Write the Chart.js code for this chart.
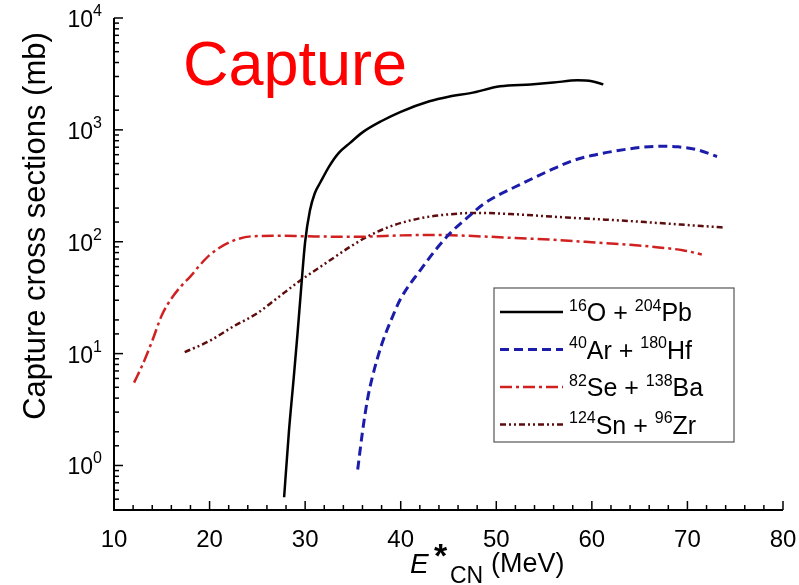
<!DOCTYPE html>
<html>
<head>
<meta charset="utf-8">
<script src="https://cdn.jsdelivr.net/npm/chart.js@4.4.1/dist/chart.umd.min.js"></script>
<style>
  html, body { margin: 0; padding: 0; background: #fff; }
  #wrap { width: 799px; height: 585px; }
</style>
</head>
<body>
<div id="wrap"><canvas id="chart" width="799" height="585"></canvas></div>
<script>
// E*CN (MeV) vs capture cross section (mb)
const opbX = [27.8, 28.3, 28.8, 29.2, 29.6, 30.0, 30.5, 31.0, 31.6, 32.5, 33.5, 34.7, 36.0, 38.0, 40.0, 43.0, 45.0, 47.3, 50.4, 53.6, 56.0, 58.5, 60.0, 61.2];
const opbY = [0.52, 2, 6, 15, 40, 100, 190, 270, 340, 470, 620, 765, 950, 1200, 1450, 1800, 1980, 2130, 2450, 2550, 2650, 2770, 2720, 2550];

const arhfX = [35.5, 36.0, 36.5, 37.0, 38.0, 39.0, 40.0, 42.0, 44.0, 45.2, 47.0, 48.6, 50.0, 52.0, 54.0, 56.0, 58.0, 60.0, 62.6, 65.0, 67.2, 69.0, 71.0, 73.1];
const arhfY = [0.92, 2, 3.8, 6, 12, 20, 31, 55, 92, 120, 165, 215, 255, 310, 375, 450, 530, 590, 650, 695, 715, 705, 665, 578];

const sebaX = [12.1, 13, 14, 15, 16, 17, 18, 19, 20, 21, 22, 23, 24.5, 27, 30, 33, 36, 40, 44, 48, 52, 56, 60, 64, 67, 69.5, 71.5];
const sebaY = [5.5, 8, 13, 22, 31, 40, 49, 62, 76, 88, 98, 106, 112, 113, 112, 111, 111, 114, 115, 112, 108, 104, 99, 94, 89, 84, 77];

const snzrX = [17.4, 20, 22.5, 25, 27, 29.5, 32, 34.7, 36.5, 39, 42, 44.5, 48, 52, 55.7, 60, 64, 66, 70, 73.8];
const snzrY = [10.3, 13, 17.5, 23, 31, 45, 63, 90, 111, 138, 162, 174, 181, 176, 168, 160, 153, 149, 141, 134];

// legend labels: [superscript, symbol] pairs for each side of the "+"
const legendParts = [
  [["16", "O"], ["204", "Pb"]],
  [["40", "Ar"], ["180", "Hf"]],
  [["82", "Se"], ["138", "Ba"]],
  [["124", "Sn"], ["96", "Zr"]],
];

const xMin = 10, xMax = 80;
const yMin = 0.4, yMax = 10000;

const FONT = "'Liberation Sans', Arial, sans-serif";

function toPoints(xs, ys) {
  return xs.map((x, i) => ({ x: x, y: ys[i] }));
}

function isDecade(v) {
  const l = Math.log10(v);
  return Math.abs(l - Math.round(l)) < 1e-6;
}

function drawSupText(ctx, x, baseline, parts, baseSize, supSize) {
  // parts: [[sup, base], ...] joined with " + "
  parts.forEach((p, i) => {
    ctx.font = supSize + "px " + FONT;
    ctx.fillText(p[0], x, baseline - baseSize * 0.42);
    x += ctx.measureText(p[0]).width;
    ctx.font = baseSize + "px " + FONT;
    ctx.fillText(p[1], x, baseline);
    x += ctx.measureText(p[1]).width;
    if (i < parts.length - 1) {
      ctx.fillText(" + ", x, baseline);
      x += ctx.measureText(" + ").width;
    }
  });
}

const decorPlugin = {
  id: "decor",
  afterDraw(chart) {
    const ctx = chart.ctx;
    const area = chart.chartArea;
    const xs = chart.scales.x;
    const ys = chart.scales.y;
    ctx.save();
    ctx.strokeStyle = "#000";
    ctx.fillStyle = "#000";
    ctx.setLineDash([]);

    // axis lines
    ctx.lineWidth = 2;
    ctx.beginPath();
    ctx.moveTo(area.left, area.top);
    ctx.lineTo(area.left, area.bottom);
    ctx.lineTo(area.right, area.bottom);
    ctx.stroke();

    // x ticks (inward) and labels
    ctx.lineWidth = 1.5;
    ctx.textAlign = "center";
    ctx.textBaseline = "alphabetic";
    ctx.font = "24px " + FONT;
    xs.ticks.forEach((t) => {
      const px = xs.getPixelForValue(t.value);
      const major = t.value % 10 === 0;
      ctx.beginPath();
      ctx.moveTo(px, area.bottom);
      ctx.lineTo(px, area.bottom - (major ? 9 : 5));
      ctx.stroke();
      if (major) ctx.fillText(String(t.value), px, area.bottom + 37);
    });

    // y ticks (inward) and labels 10^n
    ys.ticks.forEach((t) => {
      const py = ys.getPixelForValue(t.value);
      const major = isDecade(t.value);
      ctx.beginPath();
      ctx.moveTo(area.left, py);
      ctx.lineTo(area.left + (major ? 9 : 5), py);
      ctx.stroke();
      if (major) {
        const exp = String(Math.round(Math.log10(t.value)));
        ctx.textAlign = "right";
        ctx.font = "23px " + FONT;
        ctx.fillText("10", 93, py + 9);
        ctx.textAlign = "left";
        ctx.font = "16px " + FONT;
        ctx.fillText(exp, 93, py - 2);
      }
    });

    // y axis title
    ctx.save();
    ctx.translate(45, 226);
    ctx.rotate(-Math.PI / 2);
    ctx.textAlign = "center";
    ctx.font = "31px " + FONT;
    ctx.fillText("Capture cross sections (mb)", 0, 0);
    ctx.restore();

    // x axis title: E*CN (MeV)
    ctx.textAlign = "left";
    ctx.font = "italic 28px " + FONT;
    ctx.fillText("E", 410, 573);
    ctx.font = "bold 34px " + FONT;
    ctx.fillText("*", 434, 567);
    ctx.font = "23px " + FONT;
    ctx.fillText("CN", 450, 583);
    ctx.font = "27px " + FONT;
    ctx.fillText("(MeV)", 491, 572);

    // big red label
    ctx.fillStyle = "#ff0000";
    ctx.font = "63px " + FONT;
    ctx.fillText("Capture", 183, 85);

    // legend
    const box = { left: 494, top: 288, right: 734, bottom: 442 };
    ctx.fillStyle = "#fff";
    ctx.fillRect(box.left, box.top, box.right - box.left, box.bottom - box.top);
    ctx.strokeStyle = "#555";
    ctx.lineWidth = 1.2;
    ctx.strokeRect(box.left, box.top, box.right - box.left, box.bottom - box.top);
    chart.data.datasets.forEach((ds, i) => {
      const base = 321 + i * 37.5;
      const cy = base - 9;
      ctx.strokeStyle = ds.borderColor;
      ctx.lineWidth = ds.borderWidth;
      ctx.setLineDash(ds.borderDash || []);
      ctx.beginPath();
      ctx.moveTo(500, cy);
      ctx.lineTo(563, cy);
      ctx.stroke();
      ctx.setLineDash([]);
      ctx.fillStyle = "#000";
      drawSupText(ctx, 569, base, legendParts[i], 25, 16);
    });

    ctx.restore();
  },
};

new Chart(document.getElementById("chart"), {
  type: "line",
  data: {
    datasets: [
      {
        label: "16O + 204Pb",
        data: toPoints(opbX, opbY),
        borderColor: "#000000",
        borderWidth: 2.5,
        borderDash: [],
      },
      {
        label: "40Ar + 180Hf",
        data: toPoints(arhfX, arhfY),
        borderColor: "#1c1caa",
        borderWidth: 3,
        borderDash: [9, 5],
      },
      {
        label: "82Se + 138Ba",
        data: toPoints(sebaX, sebaY),
        borderColor: "#d02020",
        borderWidth: 2.5,
        borderDash: [12, 4, 3, 4],
      },
      {
        label: "124Sn + 96Zr",
        data: toPoints(snzrX, snzrY),
        borderColor: "#5c0c0c",
        borderWidth: 2.5,
        borderDash: [6, 3, 2, 3, 2, 3],
      },
    ],
  },
  options: {
    responsive: false,
    devicePixelRatio: 1,
    animation: false,
    layout: { padding: { top: 18, right: 16, left: 0, bottom: 0 } },
    elements: {
      point: { radius: 0 },
      line: { cubicInterpolationMode: "monotone", fill: false },
    },
    plugins: {
      legend: { display: false },
      tooltip: { enabled: false },
    },
    scales: {
      x: {
        type: "linear",
        min: xMin,
        max: xMax,
        ticks: { stepSize: 2, display: false },
        grid: { display: false },
        border: { display: false },
        afterFit(scale) { scale.height = 75; },
      },
      y: {
        type: "logarithmic",
        min: yMin,
        max: yMax,
        ticks: { display: false },
        grid: { display: false },
        border: { display: false },
        afterFit(scale) { scale.width = 114; },
      },
    },
  },
  plugins: [decorPlugin],
});
</script>
</body>
</html>
